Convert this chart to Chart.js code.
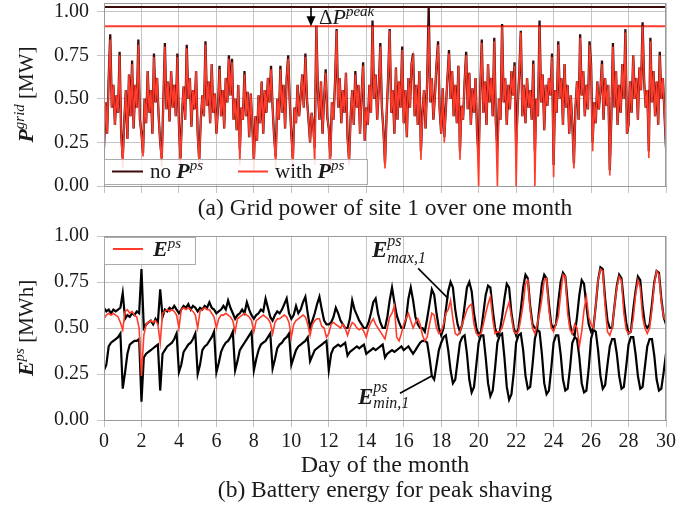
<!DOCTYPE html>
<html>
<head>
<meta charset="utf-8">
<script src="https://cdn.jsdelivr.net/npm/chart.js@4.4.1/dist/chart.umd.min.js"></script>
<style>
  body { margin: 0; background: #fff; }
  #wrap { position: relative; width: 699px; height: 510px; }
  canvas { position: absolute; left: 0; }
</style>
</head>
<body>
<div id="wrap">
  <canvas id="gridChart" width="699" height="222" style="top:0"></canvas>
  <canvas id="energyChart" width="699" height="288" style="top:222px"></canvas>
</div>
<script>
// ---- data: grid power of site 1 (MW), 12 samples per day ----
const gridPerDay = 12;
const gridNoPs = [
  0.22, 0.48, 0.30, 0.62, 0.87, 0.45, 0.58, 0.35, 0.52, 0.42, 0.77, 0.30,
  0.16, 0.38, 0.55, 0.27, 0.64, 0.40, 0.72, 0.33, 0.58, 0.45, 0.84, 0.38,
  0.30, 0.19, 0.50, 0.36, 0.66, 0.42, 0.55, 0.30, 0.76, 0.48, 0.62, 0.40,
  0.25, 0.16, 0.48, 0.82, 0.44, 0.60, 0.37, 0.66, 0.45, 0.58, 0.40, 0.76,
  0.35, 0.16, 0.42, 0.57, 0.38, 0.81, 0.50, 0.62, 0.34, 0.55, 0.44, 0.66,
  0.30, 0.15, 0.38, 0.52, 0.40, 0.83, 0.46, 0.60, 0.36, 0.70, 0.42, 0.53,
  0.30, 0.45, 0.69, 0.40, 0.55, 0.33, 0.62, 0.48, 0.75, 0.52, 0.73, 0.38,
  0.50, 0.32, 0.58, 0.21, 0.45, 0.38, 0.66, 0.40, 0.54, 0.28, 0.53, 0.35,
  0.15, 0.40, 0.26, 0.52, 0.36, 0.60, 0.30, 0.55, 0.42, 0.62, 0.48, 0.69,
  0.45, 0.28, 0.17, 0.50, 0.38, 0.69, 0.42, 0.58, 0.33, 0.62, 0.75, 0.48,
  0.30, 0.16, 0.45, 0.36, 0.58, 0.40, 0.52, 0.64, 0.45, 0.76, 0.50, 0.38,
  0.25, 0.42, 0.35, 0.22, 0.92, 0.55, 0.38, 0.60, 0.30, 0.50, 0.67, 0.40,
  0.33, 0.17, 0.48, 0.38, 0.60, 0.90, 0.45, 0.62, 0.36, 0.55, 0.42, 0.65,
  0.28, 0.15, 0.40, 0.55, 0.35, 0.66, 0.45, 0.58, 0.30, 0.52, 0.71, 0.26,
  0.45, 0.35, 0.58, 0.42, 0.95, 0.50, 0.64, 0.38, 0.56, 0.82, 0.45, 0.32,
  0.13, 0.40, 0.62, 0.90, 0.42, 0.55, 0.30, 0.68, 0.38, 0.60, 0.45, 0.80,
  0.36, 0.55, 0.28, 0.62, 0.45, 0.70, 0.76, 0.40, 0.58, 0.35, 0.66, 0.20,
  0.42, 0.55, 0.33, 0.60, 1.027, 0.48, 0.62, 0.38, 0.52, 0.70, 0.83, 0.44,
  0.30, 0.56, 0.28, 0.45, 0.62, 0.78, 0.50, 0.66, 0.40, 0.58, 0.36, 0.69,
  0.20, 0.46, 0.38, 0.60, 0.77, 0.44, 0.65, 0.35, 0.56, 0.42, 0.62, 0.30,
  0.18, 0.55, 0.84, 0.42, 0.60, 0.35, 0.70, 0.48, 0.62, 0.40, 0.85, 0.36,
  0.22, 0.50, 0.38, 0.93, 0.48, 0.62, 0.35, 0.58, 0.44, 0.66, 0.52, 0.71,
  0.24, 0.46, 0.65, 0.89, 0.40, 0.58, 0.36, 0.62, 0.45, 0.55, 0.38, 0.72,
  0.20, 0.50, 0.40, 0.95, 0.48, 0.64, 0.32, 0.58, 0.46, 0.62, 0.52, 0.76,
  0.12, 0.55, 0.42, 0.83, 0.50, 0.62, 0.35, 0.70, 0.45, 0.58, 0.30, 0.52,
  0.36, 0.13, 0.45, 0.60, 0.38, 0.87, 0.52, 0.66, 0.40, 0.58, 0.44, 0.83,
  0.70, 0.25, 0.48, 0.36, 0.60, 0.44, 0.55, 0.72, 0.38, 0.62, 0.46, 0.58,
  0.09, 0.40, 0.82, 0.45, 0.66, 0.35, 0.58, 0.42, 0.70, 0.50, 0.90, 0.30,
  0.35, 0.60, 0.42, 0.75, 0.50, 0.62, 0.38, 0.68, 0.55, 0.94, 0.60, 0.45,
  0.55, 0.20, 0.85, 0.48, 0.66, 0.40, 0.60, 0.35, 0.77, 0.50, 0.62, 0.42,
  0.22
];
const gridWithPs = [
  0.20, 0.48, 0.30, 0.62, 0.84, 0.45, 0.58, 0.35, 0.52, 0.42, 0.75, 0.30,
  0.10, 0.38, 0.55, 0.27, 0.64, 0.40, 0.70, 0.33, 0.58, 0.45, 0.81, 0.38,
  0.30, 0.17, 0.50, 0.36, 0.66, 0.42, 0.55, 0.30, 0.74, 0.48, 0.62, 0.40,
  0.25, 0.11, 0.48, 0.80, 0.44, 0.60, 0.37, 0.66, 0.45, 0.58, 0.40, 0.74,
  0.35, 0.12, 0.42, 0.57, 0.38, 0.79, 0.50, 0.62, 0.34, 0.55, 0.44, 0.66,
  0.30, 0.11, 0.38, 0.52, 0.40, 0.81, 0.46, 0.60, 0.36, 0.70, 0.42, 0.53,
  0.30, 0.45, 0.67, 0.40, 0.55, 0.33, 0.62, 0.48, 0.73, 0.52, 0.71, 0.38,
  0.50, 0.32, 0.58, 0.12, 0.45, 0.38, 0.64, 0.40, 0.54, 0.28, 0.53, 0.35,
  0.09, 0.40, 0.26, 0.52, 0.36, 0.60, 0.30, 0.55, 0.42, 0.62, 0.48, 0.67,
  0.45, 0.28, 0.10, 0.50, 0.38, 0.67, 0.42, 0.58, 0.33, 0.62, 0.73, 0.48,
  0.30, 0.10, 0.45, 0.36, 0.58, 0.40, 0.52, 0.64, 0.45, 0.74, 0.50, 0.38,
  0.25, 0.42, 0.35, 0.12, 0.916, 0.55, 0.38, 0.60, 0.30, 0.50, 0.65, 0.40,
  0.33, 0.10, 0.48, 0.38, 0.60, 0.89, 0.45, 0.62, 0.36, 0.55, 0.42, 0.65,
  0.28, 0.12, 0.40, 0.55, 0.35, 0.64, 0.45, 0.58, 0.30, 0.52, 0.69, 0.26,
  0.45, 0.35, 0.58, 0.42, 0.916, 0.50, 0.64, 0.38, 0.56, 0.80, 0.45, 0.32,
  0.10, 0.40, 0.62, 0.89, 0.42, 0.55, 0.30, 0.68, 0.38, 0.60, 0.45, 0.78,
  0.36, 0.55, 0.28, 0.62, 0.45, 0.70, 0.74, 0.40, 0.58, 0.35, 0.66, 0.15,
  0.42, 0.55, 0.33, 0.60, 0.916, 0.48, 0.62, 0.38, 0.52, 0.70, 0.81, 0.44,
  0.30, 0.56, 0.25, 0.45, 0.62, 0.76, 0.50, 0.66, 0.40, 0.58, 0.36, 0.69,
  0.15, 0.46, 0.38, 0.60, 0.75, 0.44, 0.65, 0.35, 0.56, 0.42, 0.62, 0.30,
  0.00, 0.55, 0.82, 0.42, 0.60, 0.35, 0.70, 0.48, 0.62, 0.40, 0.83, 0.36,
  0.00, 0.50, 0.38, 0.916, 0.48, 0.62, 0.35, 0.58, 0.44, 0.66, 0.52, 0.69,
  0.00, 0.46, 0.65, 0.88, 0.40, 0.58, 0.36, 0.62, 0.45, 0.55, 0.38, 0.70,
  0.00, 0.50, 0.40, 0.916, 0.48, 0.64, 0.32, 0.58, 0.46, 0.62, 0.52, 0.74,
  0.05, 0.55, 0.42, 0.81, 0.50, 0.62, 0.35, 0.70, 0.45, 0.58, 0.30, 0.52,
  0.36, 0.10, 0.45, 0.60, 0.38, 0.85, 0.52, 0.66, 0.40, 0.58, 0.44, 0.81,
  0.68, 0.20, 0.48, 0.36, 0.60, 0.44, 0.55, 0.70, 0.38, 0.62, 0.46, 0.58,
  0.06, 0.40, 0.80, 0.45, 0.66, 0.35, 0.58, 0.42, 0.70, 0.50, 0.88, 0.30,
  0.35, 0.60, 0.42, 0.75, 0.50, 0.62, 0.38, 0.68, 0.55, 0.916, 0.60, 0.45,
  0.55, 0.16, 0.83, 0.48, 0.66, 0.40, 0.60, 0.35, 0.75, 0.50, 0.62, 0.42,
  0.22
];
const peakNoPs = 1.027;   // max grid power without peak shaving
const peakWithPs = 0.916; // max grid power with peak shaving
const peakArrowDay = 11.05;

// ---- data: battery energy (MWh), 8 samples per day ----
const energyPerDay = 8;
const eMax = [
  0.61, 0.59, 0.60, 0.58, 0.60, 0.59, 0.60, 0.61,
  0.69, 0.55, 0.57, 0.56, 0.58, 0.57, 0.59, 0.58,
  0.82, 0.50, 0.52, 0.53, 0.54, 0.52, 0.55, 0.53,
  0.71, 0.56, 0.60, 0.59, 0.61, 0.60, 0.62, 0.60,
  0.58, 0.60, 0.62, 0.61, 0.63, 0.60, 0.62, 0.61,
  0.59, 0.61, 0.60, 0.62, 0.61, 0.64, 0.61, 0.60,
  0.58, 0.59, 0.60, 0.62, 0.60, 0.65, 0.61, 0.58,
  0.55, 0.57, 0.58, 0.60, 0.58, 0.64, 0.60, 0.57,
  0.55, 0.57, 0.58, 0.60, 0.59, 0.66, 0.61, 0.56,
  0.54, 0.57, 0.59, 0.58, 0.60, 0.63, 0.66, 0.58,
  0.55, 0.57, 0.62, 0.58, 0.60, 0.64, 0.67, 0.58,
  0.50, 0.54, 0.58, 0.63, 0.67, 0.60, 0.54, 0.52,
  0.52, 0.53, 0.56, 0.61, 0.58, 0.54, 0.52, 0.50,
  0.50, 0.55, 0.65, 0.60, 0.57, 0.54, 0.52, 0.50,
  0.50, 0.53, 0.58, 0.64, 0.66, 0.58, 0.53, 0.50,
  0.50, 0.56, 0.65, 0.72, 0.64, 0.57, 0.53, 0.50,
  0.50, 0.55, 0.66, 0.72, 0.65, 0.56, 0.52, 0.50,
  0.50, 0.48, 0.55, 0.63, 0.71, 0.68, 0.58, 0.50,
  0.46, 0.50, 0.60, 0.70, 0.75, 0.72, 0.60, 0.52,
  0.48, 0.52, 0.62, 0.72, 0.75, 0.70, 0.58, 0.50,
  0.46, 0.48, 0.58, 0.68, 0.73, 0.72, 0.60, 0.50,
  0.46, 0.48, 0.56, 0.66, 0.74, 0.72, 0.58, 0.50,
  0.46, 0.50, 0.60, 0.72, 0.79, 0.77, 0.62, 0.52,
  0.50, 0.50, 0.62, 0.74, 0.79, 0.77, 0.63, 0.52,
  0.50, 0.52, 0.64, 0.75, 0.80, 0.78, 0.64, 0.52,
  0.47, 0.46, 0.56, 0.68, 0.76, 0.74, 0.62, 0.52,
  0.48, 0.50, 0.62, 0.76, 0.83, 0.82, 0.66, 0.54,
  0.50, 0.50, 0.62, 0.73, 0.79, 0.77, 0.64, 0.53,
  0.47, 0.48, 0.60, 0.70, 0.78, 0.76, 0.62, 0.52,
  0.50, 0.52, 0.63, 0.75, 0.81, 0.80, 0.66, 0.56,
  0.52
];
const eMin = [
  0.27, 0.30, 0.40, 0.42, 0.43, 0.44, 0.45, 0.47,
  0.17, 0.26, 0.36, 0.41, 0.42, 0.43, 0.43, 0.44,
  0.10, 0.34, 0.36, 0.37, 0.38, 0.39, 0.40, 0.41,
  0.16, 0.36, 0.38, 0.40, 0.41, 0.42, 0.44, 0.47,
  0.26, 0.30, 0.37, 0.39, 0.41, 0.42, 0.44, 0.47,
  0.25, 0.30, 0.38, 0.40, 0.41, 0.43, 0.45, 0.48,
  0.26, 0.31, 0.37, 0.40, 0.42, 0.43, 0.45, 0.48,
  0.27, 0.32, 0.38, 0.40, 0.42, 0.44, 0.46, 0.48,
  0.27, 0.33, 0.38, 0.41, 0.42, 0.43, 0.45, 0.47,
  0.28, 0.33, 0.39, 0.41, 0.42, 0.44, 0.45, 0.47,
  0.30, 0.34, 0.38, 0.40, 0.41, 0.42, 0.43, 0.45,
  0.32, 0.35, 0.38, 0.39, 0.40, 0.41, 0.42, 0.43,
  0.27, 0.36, 0.39, 0.40, 0.41, 0.40, 0.41, 0.42,
  0.35, 0.37, 0.38, 0.39, 0.40, 0.39, 0.40, 0.41,
  0.36, 0.37, 0.38, 0.39, 0.38, 0.39, 0.40, 0.41,
  0.34, 0.36, 0.37, 0.38, 0.37, 0.38, 0.39, 0.40,
  0.38, 0.39, 0.40, 0.38, 0.36, 0.38, 0.40, 0.42,
  0.43, 0.43, 0.42, 0.34, 0.24, 0.22, 0.30, 0.38,
  0.42, 0.45, 0.46, 0.38, 0.27, 0.20, 0.22, 0.32,
  0.42, 0.45, 0.46, 0.36, 0.22, 0.15, 0.18, 0.30,
  0.42, 0.46, 0.46, 0.34, 0.20, 0.13, 0.16, 0.28,
  0.42, 0.46, 0.47, 0.34, 0.18, 0.11, 0.14, 0.26,
  0.42, 0.46, 0.47, 0.38, 0.24, 0.17, 0.18, 0.30,
  0.44, 0.49, 0.48, 0.36, 0.20, 0.14, 0.16, 0.28,
  0.42, 0.46, 0.46, 0.36, 0.22, 0.16, 0.17, 0.28,
  0.42, 0.45, 0.44, 0.34, 0.20, 0.15, 0.16, 0.28,
  0.44, 0.49, 0.48, 0.38, 0.24, 0.17, 0.19, 0.30,
  0.40, 0.44, 0.44, 0.36, 0.24, 0.17, 0.18, 0.29,
  0.41, 0.45, 0.45, 0.36, 0.24, 0.17, 0.18, 0.29,
  0.40, 0.44, 0.44, 0.35, 0.22, 0.16, 0.17, 0.26,
  0.36
];
const ePs = [
  0.55, 0.57, 0.58, 0.57, 0.58, 0.57, 0.56, 0.53,
  0.49, 0.59, 0.60, 0.58, 0.59, 0.57, 0.56, 0.50,
  0.24, 0.46, 0.52, 0.53, 0.54, 0.53, 0.54, 0.52,
  0.42, 0.58, 0.59, 0.60, 0.59, 0.60, 0.59, 0.57,
  0.50, 0.60, 0.61, 0.60, 0.61, 0.60, 0.59, 0.57,
  0.50, 0.59, 0.60, 0.61, 0.60, 0.60, 0.58, 0.56,
  0.50, 0.55, 0.57, 0.57, 0.58, 0.57, 0.56, 0.54,
  0.48, 0.55, 0.56, 0.57, 0.58, 0.57, 0.56, 0.54,
  0.48, 0.54, 0.55, 0.56, 0.57, 0.56, 0.55, 0.53,
  0.47, 0.53, 0.55, 0.55, 0.56, 0.57, 0.56, 0.53,
  0.45, 0.52, 0.54, 0.55, 0.56, 0.57, 0.56, 0.52,
  0.46, 0.52, 0.54, 0.55, 0.55, 0.51, 0.50, 0.45,
  0.47, 0.52, 0.53, 0.52, 0.51, 0.50, 0.52, 0.50,
  0.46, 0.50, 0.53, 0.52, 0.50, 0.49, 0.50, 0.48,
  0.45, 0.50, 0.53, 0.55, 0.52, 0.50, 0.48, 0.46,
  0.44, 0.50, 0.56, 0.58, 0.62, 0.45, 0.43, 0.47,
  0.52, 0.55, 0.58, 0.54, 0.50, 0.53, 0.55, 0.52,
  0.46, 0.43, 0.45, 0.52, 0.58, 0.57, 0.50, 0.47,
  0.48, 0.52, 0.58, 0.60, 0.65, 0.55, 0.47, 0.46,
  0.48, 0.52, 0.56, 0.60, 0.62, 0.63, 0.52, 0.47,
  0.46, 0.47, 0.52, 0.58, 0.63, 0.67, 0.55, 0.47,
  0.48, 0.48, 0.50, 0.55, 0.60, 0.64, 0.56, 0.48,
  0.47, 0.48, 0.55, 0.63, 0.74, 0.76, 0.60, 0.50,
  0.47, 0.52, 0.58, 0.66, 0.76, 0.77, 0.60, 0.50,
  0.48, 0.52, 0.56, 0.68, 0.79, 0.78, 0.58, 0.49,
  0.47, 0.52, 0.50, 0.40, 0.48, 0.60, 0.67, 0.56,
  0.52, 0.50, 0.62, 0.76, 0.82, 0.81, 0.62, 0.48,
  0.46, 0.50, 0.62, 0.72, 0.78, 0.76, 0.58, 0.49,
  0.47, 0.48, 0.55, 0.68, 0.76, 0.72, 0.56, 0.50,
  0.47, 0.50, 0.60, 0.74, 0.81, 0.79, 0.64, 0.56,
  0.54
];

// ---- axes / tick labels ----
const dayTicks = [0, 2, 4, 6, 8, 10, 12, 14, 16, 18, 20, 22, 24, 26, 28, 30];
const powerTicks = [0, 0.25, 0.5, 0.75, 1.0];
const energyTicks = [0, 0.25, 0.5, 0.75, 1.0];

// annotation anchors in data units (day, value)
const maxLabelAt = [14.3, 0.886];
const maxLeader = [[16.77, 0.824], [18.37, 0.661]];
const minLabelAt = [13.56, 0.087];
const minLeader = [[15.8, 0.145], [17.49, 0.239]];

const SERIF = '"Liberation Serif", "Times New Roman", serif';
const font = (style, size) => `${style} ${size}px ${SERIF}`;
const darkLine = '#3b0b0b';
const redLine = '#ff3b2b';
const gridGrey = '#c4c4c4';
const frameGrey = '#9a9a9a';
const textCol = '#1a1a1a';

function toPoints(values, perDay) {
  return values.map((v, i) => ({ x: i / perDay, y: v }));
}

// rich text: parts drawn left to right, 'stay' keeps x for stacked sup/sub
function measureParts(ctx, parts) {
  let w = 0;
  parts.forEach(p => { ctx.font = p.font; if (!p.stay) w += ctx.measureText(p.text).width; });
  return w;
}
function drawParts(ctx, parts, x, y) {
  let cx = x;
  parts.forEach(p => {
    ctx.font = p.font;
    ctx.fillText(p.text, cx, y + (p.dy || 0));
    if (!p.stay) cx += ctx.measureText(p.text).width;
  });
}
function drawVerticalTitle(ctx, parts, baseX, centerY) {
  ctx.save();
  ctx.translate(baseX, centerY);
  ctx.rotate(-Math.PI / 2);
  ctx.fillStyle = textCol;
  ctx.textAlign = 'left';
  ctx.textBaseline = 'alphabetic';
  drawParts(ctx, parts, -measureParts(ctx, parts) / 2, 0);
  ctx.restore();
}
function line(ctx, x1, y1, x2, y2, color, width) {
  ctx.beginPath();
  ctx.moveTo(x1, y1);
  ctx.lineTo(x2, y2);
  ctx.strokeStyle = color;
  ctx.lineWidth = width;
  ctx.stroke();
}

function baseScales(yTicks, yMax) {
  return {
    x: {
      type: 'linear', min: 0, max: 30,
      afterBuildTicks: s => { s.ticks = dayTicks.map(v => ({ value: v })); },
      grid: { color: gridGrey, lineWidth: 1, tickLength: 7 },
      border: { color: frameGrey, width: 1 },
      ticks: { font: { family: SERIF, size: 20 }, color: textCol, maxRotation: 0, autoSkip: false, padding: 3 }
    },
    y: {
      min: 0, max: yMax,
      afterBuildTicks: s => { s.ticks = yTicks.map(v => ({ value: v })); },
      grid: { color: gridGrey, lineWidth: 1, tickLength: 7 },
      border: { color: frameGrey, width: 1 },
      ticks: { font: { family: SERIF, size: 20 }, color: textCol, padding: 8,
               callback: v => Number(v).toFixed(2) },
      afterFit: s => { s.width = 104; s.paddingTop = 0; s.paddingBottom = 0; }
    }
  };
}

const frame = {
  id: 'frame',
  afterDatasetsDraw(chart) {
    const a = chart.chartArea, ctx = chart.ctx;
    ctx.save();
    ctx.strokeStyle = frameGrey;
    ctx.lineWidth = 1;
    ctx.strokeRect(a.left + 0.5, a.top + 0.5, a.right - a.left - 1, a.bottom - a.top);
    ctx.restore();
  }
};

// ---------------- (a) grid power ----------------
const gridScales = baseScales(powerTicks, 1.05);
gridScales.x.ticks.display = false;
gridScales.x.afterFit = s => { s.height = 36; s.paddingLeft = 0; s.paddingRight = 0; };

const gridDecor = {
  id: 'gridDecor',
  afterDraw(chart) {
    const ctx = chart.ctx, a = chart.chartArea;
    const xs = chart.scales.x, ys = chart.scales.y;
    ctx.save();
    // peak reduction arrow
    const ax = xs.getPixelForValue(peakArrowDay);
    const y1 = ys.getPixelForValue(peakNoPs), y2 = ys.getPixelForValue(peakWithPs);
    line(ctx, ax, y1, ax, y2 - 8, '#000', 1.6);
    ctx.beginPath();
    ctx.moveTo(ax - 4.5, y2 - 10);
    ctx.lineTo(ax + 4.5, y2 - 10);
    ctx.lineTo(ax, y2);
    ctx.closePath();
    ctx.fillStyle = '#000';
    ctx.fill();
    ctx.fillStyle = textCol;
    ctx.textBaseline = 'alphabetic';
    ctx.textAlign = 'left';
    drawParts(ctx, [
      { text: '\u0394', font: font('', 21) },
      { text: 'P', font: font('italic', 22) },
      { text: 'peak', font: font('italic', 15), dy: -8 }
    ], ax + 8, y2 - 2);

    // legend
    const bx = a.left, by = a.bottom - 27;
    ctx.fillStyle = 'rgba(255,255,255,0.85)';
    ctx.fillRect(bx, by, 263, 25);
    ctx.strokeStyle = '#ababab';
    ctx.lineWidth = 1;
    ctx.strokeRect(bx + 0.5, by + 0.5, 263, 25);
    line(ctx, bx + 8, by + 12.5, bx + 39, by + 12.5, darkLine, 2);
    line(ctx, bx + 134, by + 12.5, bx + 164, by + 12.5, redLine, 2);
    ctx.fillStyle = textCol;
    drawParts(ctx, [
      { text: 'no ', font: font('', 21) },
      { text: 'P', font: font('bold italic', 22) },
      { text: 'ps', font: font('italic', 15), dy: -8 }
    ], bx + 46, by + 19);
    drawParts(ctx, [
      { text: 'with ', font: font('', 21) },
      { text: 'P', font: font('bold italic', 22) },
      { text: 'ps', font: font('italic', 15), dy: -8 }
    ], bx + 171, by + 19);

    // y title and caption
    drawVerticalTitle(ctx, [
      { text: 'P', font: font('bold italic', 22) },
      { text: 'grid', font: font('italic', 15), dy: -9 },
      { text: ' [MW]', font: font('', 21) }
    ], 33, (a.top + a.bottom) / 2);
    ctx.fillStyle = textCol;
    ctx.font = font('', 23.5);
    ctx.textAlign = 'center';
    ctx.textBaseline = 'middle';
    ctx.fillText('(a) Grid power of site 1 over one month', (a.left + a.right) / 2, a.bottom + 23);
    ctx.restore();
  }
};

new Chart(document.getElementById('gridChart'), {
  type: 'line',
  data: {
    datasets: [
      { label: 'with P^ps', data: toPoints(gridWithPs, gridPerDay), borderColor: redLine, borderWidth: 1.6, order: 0 },
      { label: 'no P^ps', data: toPoints(gridNoPs, gridPerDay), borderColor: darkLine, borderWidth: 2.3, order: 1 },
      { label: 'peak no P^ps', data: [{ x: 0, y: peakNoPs }, { x: 30, y: peakNoPs }], borderColor: darkLine, borderWidth: 2, order: 2 },
      { label: 'peak with P^ps', data: [{ x: 0, y: peakWithPs }, { x: 30, y: peakWithPs }], borderColor: redLine, borderWidth: 2, order: 2 }
    ]
  },
  options: {
    responsive: false, animation: false, devicePixelRatio: 1,
    layout: { padding: { top: 3, right: 33, left: 0, bottom: 0 } },
    elements: { point: { radius: 0 }, line: { tension: 0, fill: false } },
    plugins: { legend: { display: false }, tooltip: { enabled: false } },
    scales: gridScales
  },
  plugins: [frame, gridDecor]
});

// ---------------- (b) battery energy ----------------
const energyScales = baseScales(energyTicks, 1.0);
energyScales.x.title = {
  display: true, text: 'Day of the month', color: textCol,
  font: { family: SERIF, size: 24 }, padding: { top: 4, bottom: 30 }
};
energyScales.x.afterFit = s => { s.height = 90; s.paddingLeft = 0; s.paddingRight = 0; };

const energyDecor = {
  id: 'energyDecor',
  afterDraw(chart) {
    const ctx = chart.ctx, a = chart.chartArea;
    const xs = chart.scales.x, ys = chart.scales.y;
    const px = p => [xs.getPixelForValue(p[0]), ys.getPixelForValue(p[1])];
    ctx.save();
    ctx.textAlign = 'left';
    ctx.textBaseline = 'alphabetic';

    // legend
    const bx = a.left, by = a.top + 1;
    ctx.fillStyle = 'rgba(255,255,255,0.85)';
    ctx.fillRect(bx, by, 91, 27);
    ctx.strokeStyle = '#ababab';
    ctx.lineWidth = 1;
    ctx.strokeRect(bx + 0.5, by + 0.5, 91, 27);
    line(ctx, bx + 9, by + 12, bx + 39, by + 12, redLine, 2);
    ctx.fillStyle = textCol;
    drawParts(ctx, [
      { text: 'E', font: font('bold italic', 22) },
      { text: 'ps', font: font('italic', 15), dy: -8 }
    ], bx + 49, by + 19);

    // bound labels with leaders
    let [l1, l2] = [px(maxLeader[0]), px(maxLeader[1])];
    line(ctx, l1[0], l1[1], l2[0], l2[1], '#000', 1.6);
    [l1, l2] = [px(minLeader[0]), px(minLeader[1])];
    line(ctx, l1[0], l1[1], l2[0], l2[1], '#000', 1.6);
    ctx.fillStyle = textCol;
    let p = px(maxLabelAt);
    drawParts(ctx, [
      { text: 'E', font: font('bold italic', 23) },
      { text: 'ps', font: font('italic', 16), dy: -11, stay: true },
      { text: 'max,1', font: font('italic', 16), dy: 6 }
    ], p[0], p[1]);
    p = px(minLabelAt);
    drawParts(ctx, [
      { text: 'E', font: font('bold italic', 23) },
      { text: 'ps', font: font('italic', 16), dy: -12, stay: true },
      { text: 'min,1', font: font('italic', 16), dy: 4 }
    ], p[0], p[1]);

    // y title and caption
    drawVerticalTitle(ctx, [
      { text: 'E', font: font('bold italic', 22) },
      { text: 'ps', font: font('italic', 15), dy: -9 },
      { text: ' [MWh]', font: font('', 21) }
    ], 33, (a.top + a.bottom) / 2);
    ctx.fillStyle = textCol;
    ctx.font = font('', 23.5);
    ctx.textAlign = 'center';
    ctx.textBaseline = 'middle';
    ctx.fillText('(b) Battery energy for peak shaving', (a.left + a.right) / 2, a.bottom + 71);
    ctx.restore();
  }
};

new Chart(document.getElementById('energyChart'), {
  type: 'line',
  data: {
    datasets: [
      { label: 'E^ps', data: toPoints(ePs, energyPerDay), borderColor: redLine, borderWidth: 1.6, order: 0 },
      { label: 'E^ps max,1', data: toPoints(eMax, energyPerDay), borderColor: '#000', borderWidth: 2.2, order: 1 },
      { label: 'E^ps min,1', data: toPoints(eMin, energyPerDay), borderColor: '#000', borderWidth: 2.2, order: 1 }
    ]
  },
  options: {
    responsive: false, animation: false, devicePixelRatio: 1,
    layout: { padding: { top: 14, right: 33, left: 0, bottom: 0 } },
    elements: { point: { radius: 0 }, line: { tension: 0, fill: false } },
    plugins: { legend: { display: false }, tooltip: { enabled: false } },
    scales: energyScales
  },
  plugins: [frame, energyDecor]
});
</script>
</body>
</html>
